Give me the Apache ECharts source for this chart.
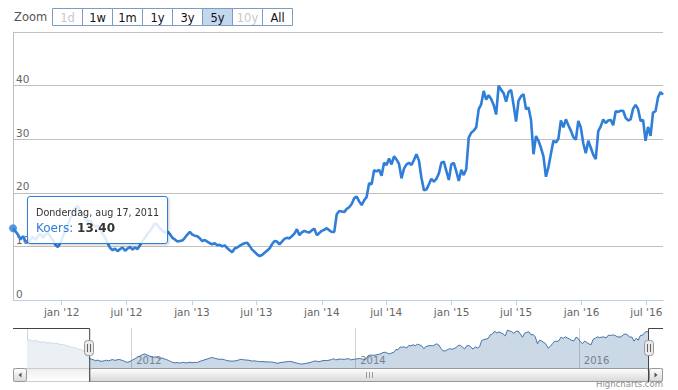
<!DOCTYPE html>
<html><head><meta charset="utf-8">
<script src="https://cdn.jsdelivr.net/npm/echarts@6/dist/echarts.min.js"></script>
<style>html,body{margin:0;padding:0;background:#fff}#c{width:678px;height:390px}</style>
</head><body><div id="c"></div>
<script>
// ---------- data ----------
const seriesName = 'Koers';
const startDate = '2011-08-17';      // first point of the 5y range (weekly points)
const preStartDate = '2011-01-26';   // first point of the full history (navigator)
const stepDays = 7;
const koersValues = [
  13.4,12.8,12.2,11.3,11.9,11.0,10.8,11.3,11.8,11.2,
  11.9,12.4,11.6,12.2,12.5,11.9,11.2,10.3,9.9,10.6,
  11.8,12.9,14.0,15.2,16.1,17.2,17.6,16.6,15.8,15.2,
  14.5,14.9,14.1,13.6,13.9,13.0,12.4,11.6,10.6,9.7,
  9.3,9.6,9.1,9.5,9.8,9.2,9.6,9.9,9.4,9.8,
  9.5,10.2,11.0,11.6,12.3,12.9,13.6,14.3,14.0,13.4,
  12.9,12.6,12.8,12.3,11.6,11.3,10.9,11.0,11.1,11.6,
  12.2,12.7,12.2,12.0,11.9,11.5,11.0,11.2,10.9,10.6,
  10.4,10.6,10.2,10.3,10.0,10.2,9.7,9.3,8.9,9.6,
  9.8,10.1,10.4,10.6,10.7,10.1,9.4,9.0,8.5,8.2,
  8.4,8.8,9.2,9.6,10.4,11.0,10.9,10.4,10.9,11.4,
  11.6,11.5,11.9,12.4,13.2,12.1,12.6,12.9,12.7,12.6,
  13.0,13.3,12.1,12.5,12.9,13.1,13.4,13.0,12.7,12.7,
  16.0,16.6,16.5,16.4,17.0,17.3,17.9,19.0,19.3,18.4,
  17.7,18.6,19.2,21.8,21.6,24.2,24.0,24.3,23.2,25.6,
  25.2,26.4,25.3,26.8,26.2,25.4,22.7,24.5,25.3,25.6,
  25.2,26.1,27.2,26.0,22.8,20.5,20.6,21.6,22.6,22.1,
  22.6,23.6,25.6,25.8,24.1,22.4,25.3,25.6,24.0,22.2,
  24.3,23.3,24.4,30.3,31.2,31.6,32.2,35.6,36.5,39.0,
  37.4,38.2,37.5,36.4,34.6,40.0,39.2,38.6,37.0,38.8,
  39.2,36.4,33.3,37.2,38.0,38.4,35.6,35.9,33.6,27.2,
  30.6,29.7,28.4,26.8,23.0,24.8,27.3,29.7,29.4,30.1,
  33.5,32.2,33.7,32.6,31.6,30.4,29.9,33.4,32.2,29.2,
  27.4,29.7,28.4,27.1,26.3,31.5,32.4,33.7,33.0,33.5,
  33.6,32.6,35.2,35.1,35.3,35.3,34.0,33.5,33.7,35.7,
  36.4,35.6,33.4,33.6,29.7,32.3,30.6,35.0,35.2,37.8,
  38.8,38.3
];
const preValues = [
  30.6,30.9,30.2,29.8,30.3,29.6,29.0,28.5,29.1,28.3,
  27.9,28.4,27.6,27.2,27.7,26.8,26.3,26.6,25.7,25.1,
  24.5,24.0,23.4,23.0,22.1,21.6,21.2,19.0,16.2
];
const tickDates = ['2012-01-01','2012-07-01','2013-01-01','2013-07-01','2014-01-01','2014-07-01','2015-01-01','2015-07-01','2016-01-01','2016-07-01'];
const tickLabels = ["jan '12","jul '12","jan '13","jul '13","jan '14","jul '14","jan '15","jul '15","jan '16","jul '16"];
const navDates = ['2012-01-01','2014-01-01','2016-01-01'];
const navLabels = ['2012','2014','2016'];
const yMax = 50, yInterval = 10;
const rangeButtons = ['1d','1w','1m','1y','3y','5y','10y','All'];
const disabledButtons = ['1d','10y'];
const selectedButton = '5y';
const zoomLabel = 'Zoom';
const tooltipHeader = 'Donderdag, aug 17, 2011';
const creditText = 'Highcharts.com';

// ---------- build ----------
function utc(s){const p=s.split('-').map(Number);return Date.UTC(p[0],p[1]-1,p[2]);}
const DAY = 86400000;
const t0 = utc(startDate), p0 = utc(preStartDate);
const mainData = koersValues.map((v,i)=>[t0 + i*stepDays*DAY, v]);
const preData = preValues.map((v,i)=>[p0 + i*stepDays*DAY, v]);
preData.push(mainData[0]);
const tickTs = tickDates.map(utc);
const navTs = navDates.map(utc);
const tMin = mainData[0][0], tMax = mainData[mainData.length-1][0];

const FONT = 'DejaVu Sans';
const BLUE = '#2f7ed8';

const chart = echarts.init(document.getElementById('c'), null, {renderer:'svg'});
const option = {
  animation: false,
  textStyle: {fontFamily: FONT},
  grid: [
    {left: 13, right: 15, top: 32, height: 268},
    {left: 27, right: 29, top: 328, height: 40}
  ],
  xAxis: [
    {type:'value', gridIndex:0, min:tMin, max:tMax, scale:true,
     axisLine:{show:true, lineStyle:{color:'#C0D0E0', width:1}},
     axisTick:{show:true, length:5, customValues:tickTs, lineStyle:{color:'#C0D0E0'}},
     axisLabel:{customValues:tickTs, formatter:(v)=>{const k=tickTs.indexOf(v);return k>=0?tickLabels[k]:'';},
       color:'#666', fontSize:10.5, fontFamily:FONT, margin:6},
     splitLine:{show:false}},
    {type:'value', gridIndex:1, min:p0, max:tMax, scale:true,
     axisLine:{show:false},
     axisTick:{show:false, customValues:navTs},
     axisLabel:{inside:true, customValues:navTs, formatter:(v)=>{const k=navTs.indexOf(v);return k>=0?navLabels[k]:'';},
       align:'left', padding:[0,0,0,5], color:'#888', fontSize:10, fontFamily:FONT, margin:3},
     splitLine:{show:true, lineStyle:{color:'#cfcfcf', width:1}}}
  ],
  yAxis: [
    {type:'value', gridIndex:0, min:0, max:yMax, interval:yInterval,
     axisLine:{show:true, lineStyle:{color:'#C0C0C0'}},
     axisTick:{show:false},
     splitLine:{show:true, lineStyle:{color:'#C0C0C0'}},
     axisLabel:{inside:true, align:'left', verticalAlign:'bottom', margin:3, padding:[0,0,1,0],
       formatter:(v)=> v>=yMax ? '' : String(v), color:'#666', fontSize:10.5, fontFamily:FONT}},
    {type:'value', gridIndex:1, min:4.5, max:42,
     axisLine:{show:true, lineStyle:{color:'#d4d4d4'}}, axisTick:{show:false}, axisLabel:{show:false}, splitLine:{show:false}}
  ],
  tooltip: {
    trigger:'item', triggerOn:'none', alwaysShowContent:true, transitionDuration:0,
    position:[26.5,196],
    backgroundColor:'rgba(255,255,255,0.85)', borderColor:BLUE, borderWidth:1,
    padding:[10,8,6,8],
    extraCssText:'border-radius:3px;box-shadow:1px 1px 3px rgba(0,0,0,0.22);',
    formatter:(p)=>'<div style="font-family:\'DejaVu Sans\';white-space:nowrap">'+
      '<div style="font-size:9.6px;line-height:12px;color:#333">'+tooltipHeader+'</div>'+
      '<div style="font-size:12px;line-height:18px;color:#333"><span style="color:'+BLUE+'">'+seriesName+':</span> <b>'+p.value[1].toFixed(2)+'</b></div></div>'
  },
  series: [
    {type:'line', name:seriesName, xAxisIndex:0, yAxisIndex:0, data:mainData, showSymbol:false, symbol:'none',
     lineStyle:{color:BLUE, width:2.6}, itemStyle:{color:BLUE}, silent:true, emphasis:{disabled:true}, z:2},
    {type:'scatter', name:seriesName, xAxisIndex:0, yAxisIndex:0, data:[mainData[0]], symbol:'circle', symbolSize:8,
     itemStyle:{color:BLUE}, clip:false, z:4, emphasis:{scale:false}},
    {type:'line', xAxisIndex:1, yAxisIndex:1, data:preData, showSymbol:false, symbol:'none',
     lineStyle:{color:'#cfdbe8', width:1}, areaStyle:{color:'#ebf0f5', opacity:1}, silent:true},
    {type:'line', xAxisIndex:1, yAxisIndex:1, data:mainData, showSymbol:false, symbol:'none',
     lineStyle:{color:'#4572A7', width:1}, areaStyle:{color:'rgba(69,114,167,0.4)'}, silent:true}
  ]
};
chart.setOption(option);

// ---------- decorations: range selector, navigator outline, scrollbar, credits ----------
const nL = chart.convertToPixel({xAxisIndex:1}, p0);
const nR = chart.convertToPixel({xAxisIndex:1}, tMax);
const sL = chart.convertToPixel({xAxisIndex:1}, tMin);
const sR = nR;
const navTop = 328, navBot = 368, sbH = 14;
const grad = (a,b)=>({type:'linear',x:0,y:0,x2:0,y2:1,colorStops:[{offset:0,color:a},{offset:1,color:b}]});
const g = [];
g.push({type:'text', x:14, y:17, z:100, style:{text:zoomLabel, font:'11.5px "DejaVu Sans"', fill:'#555', textVerticalAlign:'middle'}});
rangeButtons.forEach((b,i)=>{
  const x = 52.5 + i*30;
  const sel = b===selectedButton, dis = disabledButtons.indexOf(b)>=0;
  g.push({type:'rect', z:100, shape:{x:x, y:8.5, width:30, height:17},
    style:{fill: sel?'#c3d7ef':'#ffffff', stroke:'#7d9bc3', lineWidth:1}});
  g.push({type:'text', z:101, x:x+15, y:17.5, style:{text:b, font:'11.5px "DejaVu Sans"', fill: dis?'#c8c8c8':'#111', textAlign:'center', textVerticalAlign:'middle'}});
});
g.push({type:'rect', z:100, shape:{x:nL-14+0.5, y:navBot+0.5, width:(nR+14)-(nL-14)-1, height:sbH-1}, style:{fill:grad('#eeeeee','#ffffff'), stroke:'#cccccc', lineWidth:1}});
g.push({type:'rect', z:101, shape:{x:sL+0.5, y:navBot+0.5, width:sR-sL-1, height:sbH-1, r:2}, style:{fill:grad('#ffffff','#d8d8d8'), stroke:'#999', lineWidth:1}});
const cx = Math.round((sL+sR)/2)+0.5;
[-3,0,3].forEach(d=>g.push({type:'line', z:102, shape:{x1:cx+d, y1:navBot+4, x2:cx+d, y2:navBot+10}, style:{stroke:'#999', lineWidth:1}}));
[[nL-14, -1],[nR, 1]].forEach(([bx,dir])=>{
  g.push({type:'rect', z:102, shape:{x:bx+0.5, y:navBot+0.5, width:13, height:sbH-1, r:2}, style:{fill:grad('#ffffff','#d8d8d8'), stroke:'#999', lineWidth:1}});
  const mx = bx+7, my = navBot+7;
  g.push({type:'polygon', z:103, shape:{points: dir<0 ? [[mx+1.5,my-2.5],[mx+1.5,my+2.5],[mx-1.5,my]] : [[mx-1.5,my-2.5],[mx-1.5,my+2.5],[mx+1.5,my]]}, style:{fill:'#555'}});
});
g.push({type:'polyline', z:104, shape:{points:[[nL-14, navTop+0.5],[sL+0.5, navTop+0.5],[sL+0.5, navBot+sbH]]}, style:{stroke:'#444', lineWidth:1, fill:null}});
g.push({type:'polyline', z:104, shape:{points:[[sR-0.5, navBot+sbH],[sR-0.5, navTop+0.5],[nR+14, navTop+0.5]]}, style:{stroke:'#444', lineWidth:1, fill:null}});
[sL, sR].forEach(hx=>{
  const x = Math.round(hx);
  g.push({type:'rect', z:105, shape:{x:x-4.5, y:340.5, width:9, height:15, r:3}, style:{fill:'#ebe7e8', stroke:'#9a9a9f', lineWidth:1}});
  [-1.5,1.5].forEach(d=>g.push({type:'line', z:106, shape:{x1:x+d, y1:344, x2:x+d, y2:352}, style:{stroke:'#666', lineWidth:1}}));
});
g.push({type:'text', z:100, x:663, y:379.5, style:{text:creditText, font:'8.5px "DejaVu Sans"', fill:'#909090', textAlign:'right', textVerticalAlign:'top'}});
chart.setOption({graphic:{elements:g}});

chart.dispatchAction({type:'showTip', seriesIndex:1, dataIndex:0});
</script>
</body></html>
